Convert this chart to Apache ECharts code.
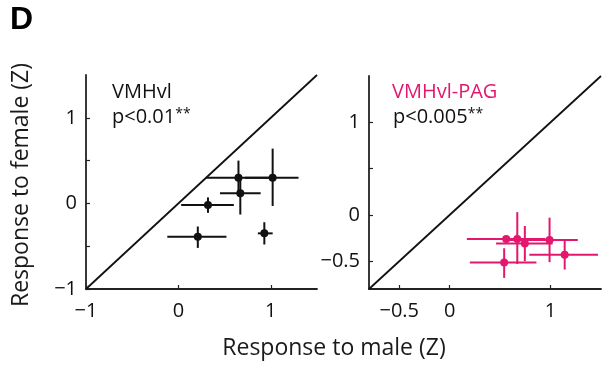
<!DOCTYPE html>
<html>
<head>
<meta charset="utf-8">
<script src="https://cdn.jsdelivr.net/npm/echarts@6/dist/echarts.min.js"></script>
<style>
html,body{margin:0;padding:0;background:#fff;}
#chart{width:616px;height:374px;}
</style>
</head>
<body>
<div id="chart"></div>
<script>
// ---- Data ----
// Panel 1: VMHvl  [x, y, xLow, xHigh, yLow, yHigh]
const vmhX     = [0.65, 1.02, 0.67, 0.32, 0.21, 0.93];
const vmhY     = [0.30, 0.30, 0.12, -0.02, -0.39, -0.35];
const vmhXLow  = [0.30, 0.72, 0.45, 0.03, -0.12, 0.86];
const vmhXHigh = [1.00, 1.30, 0.89, 0.60, 0.52, 1.02];
const vmhYLow  = [0.12, -0.03, -0.13, -0.11, -0.52, -0.48];
const vmhYHigh = [0.50, 0.64, 0.32, 0.07, -0.27, -0.22];

// Panel 2: VMHvl-PAG
const pagX     = [0.56, 0.67, 0.745, 0.99, 1.14, 0.54];
const pagY     = [-0.26, -0.26, -0.31, -0.27, -0.43, -0.515];
const pagXLow  = [0.17, 0.40, 0.46, 0.55, 0.79, 0.20];
const pagXHigh = [0.91, 0.95, 1.02, 1.27, 1.47, 0.86];
const pagYLow  = [-0.29, -0.53, -0.50, -0.51, -0.59, -0.68];
const pagYHigh = [-0.23, 0.03, -0.12, -0.03, -0.28, -0.36];

// Axis ticks / labels
const p1XTicks = [-1, 0, 1];
const p1XLabels = [-1, 0, 1];
const p1YTicks = [-1, -0.5, 0, 0.5, 1];
const p1YLabels = [-1, 0, 1];
const p2XTicks = [-0.5, 0, 1];
const p2XLabels = [-0.5, 0, 1];
const p2YTicks = [-0.5, 0, 0.5, 1];
const p2YLabels = [-0.5, 0, 1];

const p1Range = [-1, 1.5];
const p2Range = [-0.8, 1.5];

const PINK = '#e3176d';
const BLACK = '#111';

function rows(x, y, xl, xh, yl, yh) {
  return x.map((v, i) => [v, y[i], xl[i], xh[i], yl[i], yh[i]]);
}

function errItem(color) {
  return function (params, api) {
    const x = api.value(0), y = api.value(1);
    const c = api.coord([x, y]);
    const l = api.coord([api.value(2), y]);
    const r = api.coord([api.value(3), y]);
    const b = api.coord([x, api.value(4)]);
    const t = api.coord([x, api.value(5)]);
    const st = { stroke: color, lineWidth: 2 };
    return {
      type: 'group',
      children: [
        { type: 'line', shape: { x1: l[0], y1: l[1], x2: r[0], y2: r[1] }, style: st },
        { type: 'line', shape: { x1: b[0], y1: b[1], x2: t[0], y2: t[1] }, style: st },
        { type: 'circle', shape: { cx: c[0], cy: c[1], r: 4 }, style: { fill: color } }
      ]
    };
  };
}

const fmt = v => String(v).replace('-', '\u2212');
const axisCommon = {
  type: 'value',
  axisLine: { show: true, onZero: false, lineStyle: { color: '#222', width: 1.8 } },
  axisTick: { show: true, inside: true, length: 4, lineStyle: { color: '#222', width: 1.2 } },
  splitLine: { show: false },
  axisLabel: { color: '#111', fontSize: 20, fontFamily: 'Open Sans', formatter: fmt }
};

function axis(idx, range, ticks, labels, isX) {
  return Object.assign({}, axisCommon, {
    gridIndex: idx,
    min: range[0], max: range[1],
    axisTick: Object.assign({}, axisCommon.axisTick, { customValues: ticks }),
    axisLabel: Object.assign({}, axisCommon.axisLabel, { customValues: labels, margin: isX ? 12 : 9 })
  });
}

const chart = echarts.init(document.getElementById('chart'), null, { renderer: 'canvas' });

const txt = { fontFamily: 'Open Sans', fill: '#111' };

chart.setOption({
  animation: false,
  grid: [
    { left: 86, top: 75, width: 231, height: 214 },
    { left: 369, top: 76, width: 232, height: 213 }
  ],
  xAxis: [
    axis(0, p1Range, p1XTicks, p1XLabels, true),
    axis(1, p2Range, p2XTicks, p2XLabels, true)
  ],
  yAxis: [
    axis(0, p1Range, p1YTicks, p1YLabels, false),
    axis(1, p2Range, p2YTicks, p2YLabels, false)
  ],
  series: [
    {
      type: 'line', xAxisIndex: 0, yAxisIndex: 0, silent: true, showSymbol: false,
      data: [[p1Range[0], p1Range[0]], [p1Range[1], p1Range[1]]],
      lineStyle: { color: BLACK, width: 1.8 }
    },
    {
      type: 'line', xAxisIndex: 1, yAxisIndex: 1, silent: true, showSymbol: false,
      data: [[p2Range[0], p2Range[0]], [p2Range[1], p2Range[1]]],
      lineStyle: { color: BLACK, width: 1.8 }
    },
    {
      type: 'custom', xAxisIndex: 0, yAxisIndex: 0, clip: false,
      renderItem: errItem(BLACK),
      encode: { x: [0, 2, 3], y: [1, 4, 5] },
      data: rows(vmhX, vmhY, vmhXLow, vmhXHigh, vmhYLow, vmhYHigh)
    },
    {
      type: 'custom', xAxisIndex: 1, yAxisIndex: 1, clip: false,
      renderItem: errItem(PINK),
      encode: { x: [0, 2, 3], y: [1, 4, 5] },
      data: rows(pagX, pagY, pagXLow, pagXHigh, pagYLow, pagYHigh)
    }
  ],
  graphic: [
    { type: 'text', x: 10, y: 20, style: { text: 'D', font: 'bold 32px "Liberation Sans", Arial', fill: '#000', verticalAlign: 'middle' } },
    { type: 'text', x: 112, y: 92, style: Object.assign({}, txt, { text: 'VMHvl', fontSize: 20, verticalAlign: 'middle' }) },
    { type: 'text', x: 112, y: 117, style: Object.assign({}, txt, {
        text: '{a|p<0.01}{s|**}', verticalAlign: 'middle',
        rich: { a: { fontSize: 20, fontFamily: 'Open Sans', color: '#111' }, s: { fontSize: 14, fontFamily: 'Open Sans', color: '#333', verticalAlign: 'top' } }
      }) },
    { type: 'text', x: 392, y: 92, style: Object.assign({}, txt, { text: 'VMHvl-PAG', fontSize: 20, fill: PINK, verticalAlign: 'middle' }) },
    { type: 'text', x: 393, y: 117, style: Object.assign({}, txt, {
        text: '{a|p<0.005}{s|**}', verticalAlign: 'middle',
        rich: { a: { fontSize: 20, fontFamily: 'Open Sans', color: '#111' }, s: { fontSize: 14, fontFamily: 'Open Sans', color: '#333', verticalAlign: 'top' } }
      }) },
    { type: 'text', x: 334, y: 348, style: Object.assign({}, txt, { text: 'Response to male (Z)', fontSize: 23, align: 'center', verticalAlign: 'middle', fill: '#1a1a1a' }) },
    { type: 'text', x: 21, y: 185, rotation: Math.PI / 2, style: Object.assign({}, txt, { text: 'Response to female (Z)', fontSize: 23, align: 'center', verticalAlign: 'middle', fill: '#1a1a1a' }) }
  ]
});
</script>
</body>
</html>
